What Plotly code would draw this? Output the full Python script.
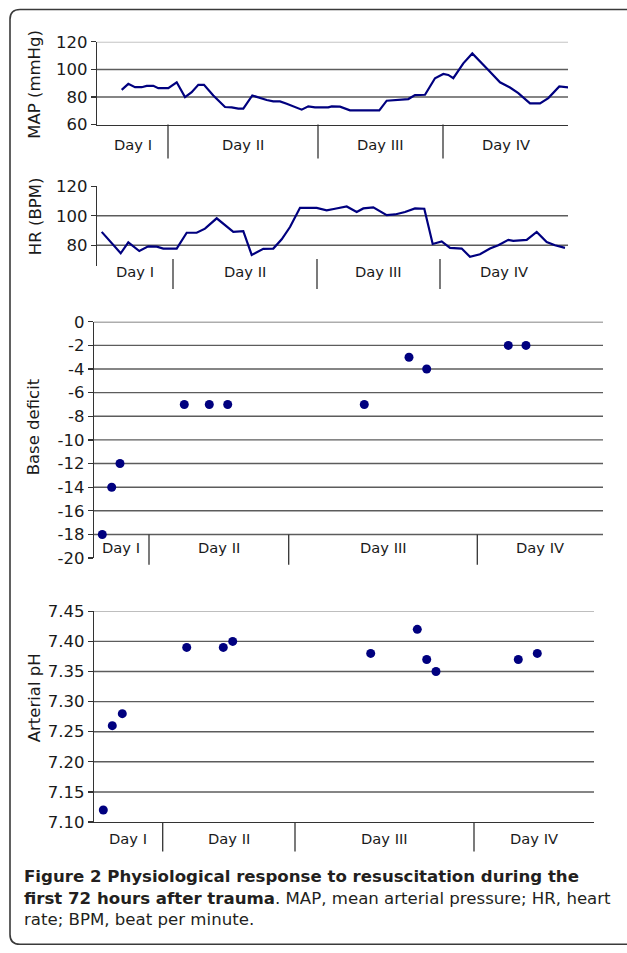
import plotly.graph_objects as go

W, H = 627, 953

# ---------------- data ----------------
day_labels = ["Day I", "Day II", "Day III", "Day IV"]

# MAP (mmHg) panel, time index along axis
map_t = [24.7, 31.3, 38, 44.7, 49.7, 56.3, 61.3, 71.3, 79.7, 88, 94.7, 101.3, 107, 116.3,
         128, 134.7, 141.3, 146.3, 155.3, 161.3, 169.7, 176.3, 183, 189.7, 196.3, 204.7,
         211.3, 218, 231.3, 234.7, 243, 253, 263, 282.3, 289.7, 299.7, 311.3, 318, 328,
         333, 338, 346.3, 351.3, 356.3, 366.3, 375.3, 383, 391.3, 403, 413, 421.3, 433,
         443, 451.3, 462.3, 471.3]
map_vals = [85.2, 89.5, 87.1, 87.1, 88.1, 88.1, 86.4, 86.4, 90.7, 79.9, 83.5, 88.8, 88.8, 81.1,
            72.7, 72.5, 71.5, 71.5, 81.1, 79.7, 77.8, 76.8, 76.8, 75.1, 73.2, 70.8,
            73.2, 72.5, 72.5, 73.2, 73.0, 70.3, 70.3, 70.3, 77.3, 77.8, 78.5, 81.4, 81.6,
            87.6, 93.6, 96.7, 96.0, 93.6, 104.4, 111.6, 106.1, 99.6, 90.7, 86.9, 82.8, 75.4,
            75.4, 79.2, 87.6, 86.9]
map_day_edges = [0, 71, 221, 346, 471]
map_ticks = [60, 80, 100, 120]

# HR (BPM) panel
hr_t = [4.7, 23.7, 31.3, 42.3, 51.3, 59.7, 66.3, 79.7, 89.7, 99.7, 108, 119.7, 136.3, 146.3,
        154.7, 166.3, 176.3, 184.7, 193, 203, 219.7, 229.7, 238, 249.7, 259.7, 266.3, 276.3,
        289.7, 298, 308, 318, 327.3, 335.7, 344.7, 353, 364.7, 373, 383, 393, 401.3, 411.3,
        416.3, 429.7, 439.7, 449.7, 458, 468]
hr_vals = [89.1, 74.6, 82.0, 76.1, 79.3, 79.1, 77.8, 77.8, 88.5, 88.5, 91.3, 98.3, 89.1, 89.6,
           73.5, 77.6, 77.8, 84.1, 92.4, 105.4, 105.4, 103.7, 104.8, 106.3, 102.6, 105.0, 105.7,
           100.4, 100.9, 102.6, 105.0, 104.8, 80.9, 82.6, 78.3, 77.8, 72.2, 73.9, 77.8, 80.0, 83.7,
           83.0, 83.7, 89.1, 82.2, 80.0, 78.3]
hr_day_edges = [0, 76, 220, 343, 471]
hr_ticks = [80, 100, 120]

# Base deficit panel
bd_t = [8.3, 17.7, 26, 90.3, 115.3, 133.7, 270.3, 315, 332.7, 414.3, 432]
bd_vals = [-18, -14, -12, -7, -7, -7, -7, -3, -4, -2, -2]
bd_day_edges = [0, 55, 194.7, 383.3, 509]
bd_ticks = list(range(-20, 1, 2))
bd_ticktext = [str(v) for v in bd_ticks]  # plain hyphen minus as in the original

# Arterial pH panel
ph_t = [9.3, 18.3, 28.3, 92.7, 129.3, 138.7, 276.7, 323.3, 332.7, 342, 424.3, 443.3]
ph_vals = [7.12, 7.26, 7.28, 7.39, 7.39, 7.40, 7.38, 7.42, 7.37, 7.35, 7.37, 7.38]
ph_day_edges = [0, 68.7, 201, 380, 500]
ph_ticks = [7.10, 7.15, 7.20, 7.25, 7.30, 7.35, 7.40, 7.45]

caption_lines = [
    "<b>Figure 2 Physiological response to resuscitation during the</b>",
    "<b>first 72 hours after trauma</b>. MAP, mean arterial pressure; HR, heart",
    "rate; BPM, beat per minute.",
]

# ---------------- layout helpers ----------------
def px_x(p):
    return p / W

def px_y(p):
    # vertical placement, slightly stretched so the frame spans the page
    q = (p - 7) / 0.984
    return 1 - q / H

NAVY = "#00007f"
GRID = "#5c5c5c"
LIGHT = "#a8a8a8"
TXT = "#1a1a1a"
FONT = "DejaVu Sans, sans-serif"

panels = [
    dict(t=map_t, v=map_vals, xr=[0, 471], yr=[60, 120], ticks=map_ticks, ttext=None,
         dx=(97, 568), dy=(40, 123),
         mode="lines", edges=map_day_edges, sep=(123, 157), lab=143, title="MAP (mmHg)", tx=35, ty=83,
         fmt="", grid=[80, 100], bottom=True, top=True),
    dict(t=hr_t, v=hr_vals, xr=[0, 471], yr=[66, 120], ticks=hr_ticks, ttext=None,
         dx=(97, 568), dy=(185, 265),
         mode="lines", edges=hr_day_edges, sep=(258, 288), lab=271, title="HR (BPM)", tx=35, ty=215,
         fmt="", grid=[80, 100], bottom=False, top=False),
    dict(t=bd_t, v=bd_vals, xr=[0, 509], yr=[-20, 0], ticks=bd_ticks, ttext=bd_ticktext,
         dx=(94, 603), dy=(321, 558.3),
         mode="markers", edges=bd_day_edges, sep=(534.5, 565), lab=548, title="Base deficit", tx=33, ty=427,
         fmt="", grid=list(range(-18, 1, 2)), bottom=False, top=False),
    dict(t=ph_t, v=ph_vals, xr=[0, 500], yr=[7.10, 7.45], ticks=ph_ticks, ttext=None,
         dx=(94, 594), dy=(611.7, 823.3),
         mode="markers", edges=ph_day_edges, sep=(823.3, 853), lab=840, title="Arterial pH", tx=34, ty=699,
         fmt=".2f", grid=[7.15, 7.20, 7.25, 7.30, 7.35, 7.40], bottom=True, top=True),
]

fig = go.Figure()
shapes = []
annotations = []
layout = {}

for i, p in enumerate(panels, start=1):
    xa = "x" if i == 1 else f"x{i}"
    ya = "y" if i == 1 else f"y{i}"
    xkey = "xaxis" if i == 1 else f"xaxis{i}"
    ykey = "yaxis" if i == 1 else f"yaxis{i}"
    xlo, xhi = p["xr"]

    if p["mode"] == "lines":
        fig.add_trace(go.Scatter(x=p["t"], y=p["v"], mode="lines",
                                 line=dict(color=NAVY, width=2.2), xaxis=xa, yaxis=ya,
                                 showlegend=False, hoverinfo="skip", cliponaxis=True))
    else:
        fig.add_trace(go.Scatter(x=p["t"], y=p["v"], mode="markers",
                                 marker=dict(color=NAVY, size=9, symbol="circle",
                                             line=dict(width=0)),
                                 xaxis=xa, yaxis=ya, showlegend=False, hoverinfo="skip",
                                 cliponaxis=False))

    layout[xkey] = dict(domain=[px_x(p["dx"][0]), px_x(p["dx"][1])], range=p["xr"],
                        anchor=ya, showgrid=False, zeroline=False, showticklabels=False,
                        ticks="", showline=p["bottom"], linecolor="#333333", linewidth=1.3)
    yax = dict(domain=[px_y(p["dy"][1]), px_y(p["dy"][0])], range=p["yr"],
               anchor=xa, tickmode="array", tickvals=p["ticks"], tickformat=p["fmt"],
               showgrid=False, zeroline=False, showline=True, linecolor="#333333",
               linewidth=1.3, ticks="outside", ticklen=5, tickwidth=1.2,
               tickcolor="#333333",
               tickfont=dict(family=FONT, size=16.5, color=TXT))
    if p["ttext"] is not None:
        yax["ticktext"] = p["ttext"]
    layout[ykey] = yax

    for g in p["grid"]:
        shapes.append(dict(type="line", xref=xa, yref=ya, x0=xlo, x1=xhi, y0=g, y1=g,
                           line=dict(color=GRID, width=1.4), layer="below"))
    if p["top"]:
        ytop = p["yr"][1]
        shapes.append(dict(type="line", xref=xa, yref=ya, x0=xlo, x1=xhi,
                           y0=ytop, y1=ytop, line=dict(color=LIGHT, width=1.4), layer="below"))

    edges = p["edges"]
    for e in edges[1:-1]:
        shapes.append(dict(type="line", xref=xa, yref="paper", x0=e, x1=e,
                           y0=px_y(p["sep"][0]), y1=px_y(p["sep"][1]),
                           line=dict(color="#333333", width=1.3)))
    for k, lab in enumerate(day_labels):
        cx = (edges[k] + edges[k + 1]) / 2
        annotations.append(dict(x=cx, xref=xa, y=px_y(p["lab"]), yref="paper", text=lab,
                                showarrow=False, xanchor="center", yanchor="middle",
                                font=dict(family=FONT, size=14.7, color=TXT)))

    annotations.append(dict(x=px_x(p["tx"]), y=px_y(p["ty"]), xref="paper", yref="paper",
                            text=p["title"], textangle=-90, showarrow=False,
                            xanchor="center", yanchor="middle",
                            font=dict(family=FONT, size=16.5, color=TXT)))

# caption
for k, (line, yc) in enumerate(zip(caption_lines, [878, 900, 921])):
    annotations.append(dict(x=px_x(22), y=px_y(yc), xref="paper", yref="paper", text=line,
                            showarrow=False, xanchor="left", yanchor="middle",
                            font=dict(family=FONT, size=16.6, color="#231f20")))

# frame with rounded left corners
x0, x1 = px_x(10), 1.02
yt, yb = px_y(7.5), px_y(946)
rx, ry = 10 / W, 10 / H
path = (f"M {x1},{yt} L {x0 + rx},{yt} Q {x0},{yt} {x0},{yt - ry} "
        f"L {x0},{yb + ry} Q {x0},{yb} {x0 + rx},{yb} L {x1},{yb}")
shapes.append(dict(type="path", xref="paper", yref="paper", path=path,
                   line=dict(color="#3a3a3a", width=1.6)))

fig.update_layout(width=W, height=H, margin=dict(l=0, r=0, t=0, b=0),
                  paper_bgcolor="white", plot_bgcolor="rgba(0,0,0,0)",
                  shapes=shapes, annotations=annotations, **layout)

page_fix = ("var s=document.createElement('style');"
            "s.innerHTML='html,body{margin:0!important;padding:0!important;overflow:hidden;}';"
            "document.head.appendChild(s);")
fig.write_html("out.html", config={"displayModeBar": False, "staticPlot": True},
               post_script=page_fix)
